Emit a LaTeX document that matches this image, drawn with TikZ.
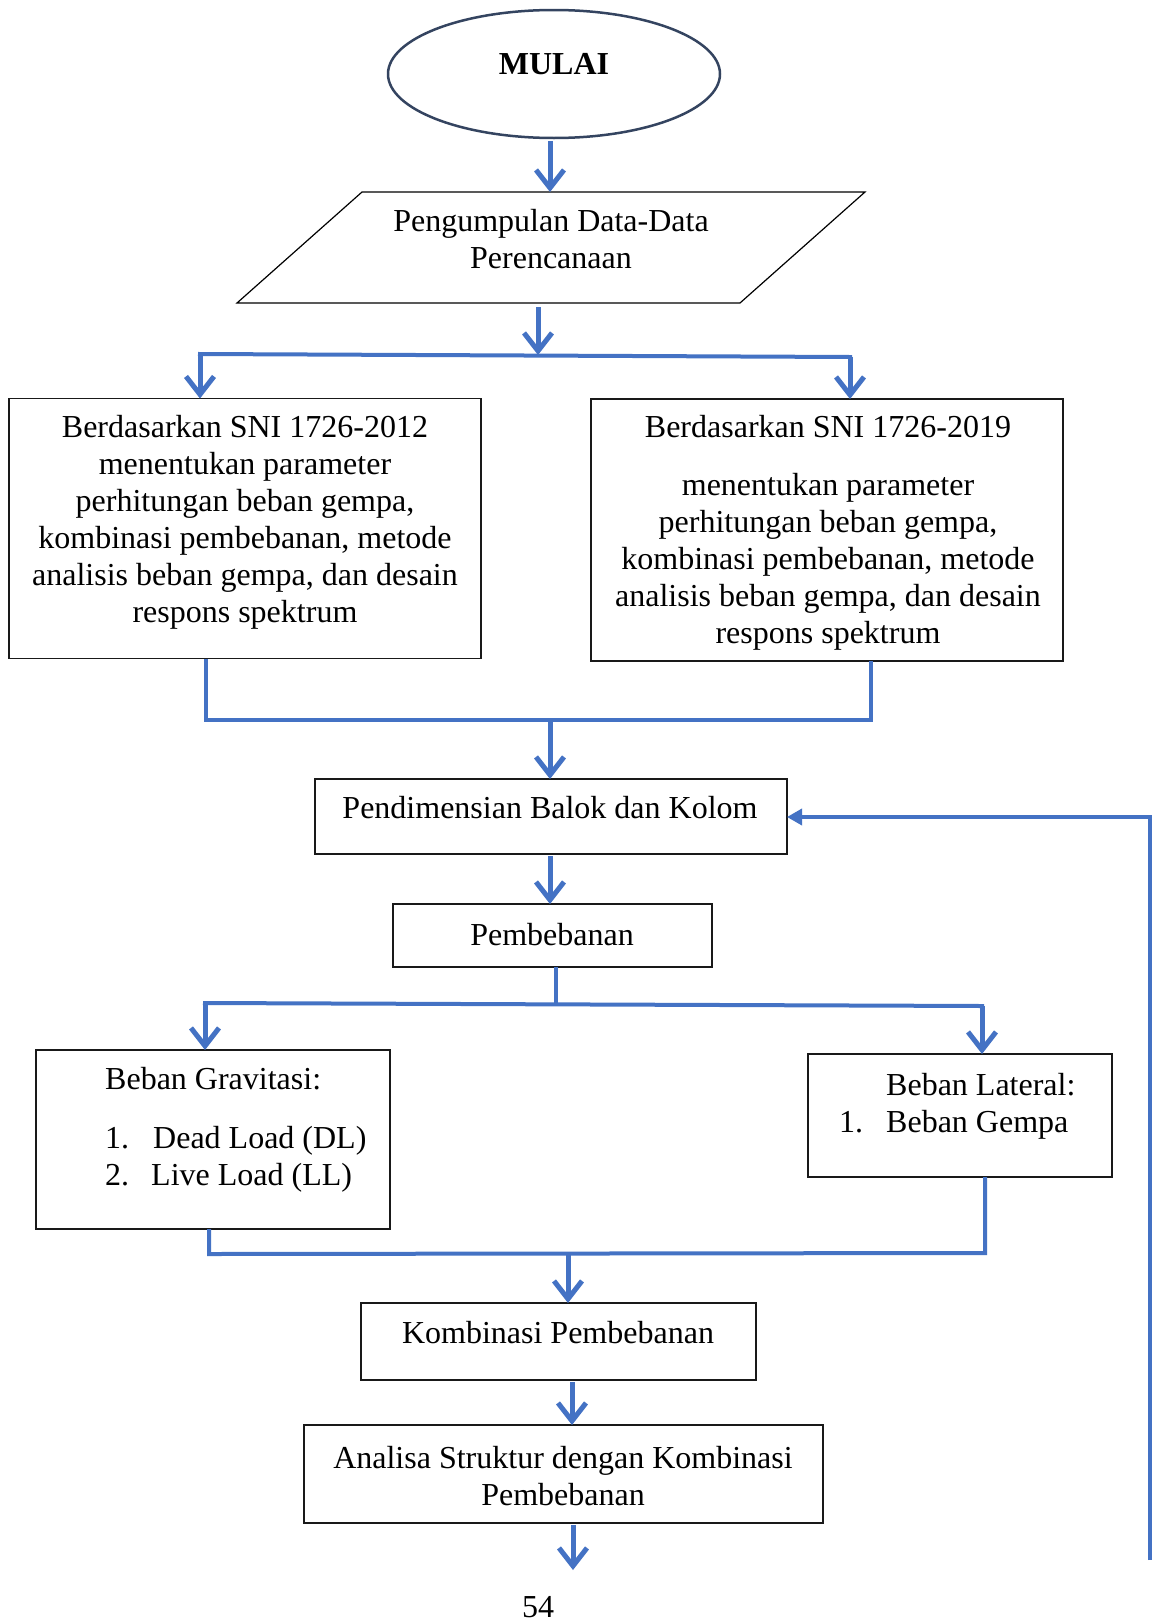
\documentclass[tikz,border=0pt]{standalone}
\usepackage{fontspec}
\setmainfont{Liberation Serif}
\usetikzlibrary{arrows.meta,shapes.geometric}
\definecolor{flow}{HTML}{4472C4}
\definecolor{ellc}{RGB}{52,68,96}
\begin{document}
\begin{tikzpicture}[x=1pt,y=-1pt,
  box/.style={draw=black!90,line width=1.5pt,inner sep=0pt,outer sep=0pt},
  txt/.style={inner sep=0pt,font=\fontsize{32}{37}\selectfont,align=center,anchor=base},
  ltxt/.style={inner sep=0pt,font=\fontsize{32}{37}\selectfont,anchor=base west},
  ln/.style={draw=flow,line width=4pt},
  arr/.style={draw=flow,line width=5pt,-{Straight Barb[length=18pt,width=28pt]}},
  back/.style={draw=flow,line width=3.5pt,-{Triangle[length=15pt,width=16pt]}},
]
\useasboundingbox (0,0) rectangle (1153,1622);
\fill[white] (0,0) rectangle (1153,1622);

% start
\node[ellipse,draw=ellc,line width=2.5pt,minimum width=332pt,minimum height=128pt,inner sep=0pt,outer sep=0pt] (mulai) at (554,74) {};
\node[txt,font=\fontsize{32}{37}\selectfont\bfseries] (mulaiT) at (554,74) {MULAI};

% data (parallelogram)
\coordinate (pTL) at (362,192);
\coordinate (pTR) at (865,192);
\coordinate (pBR) at (740,303);
\coordinate (pBL) at (237,303);
\draw[line width=1.2pt] (pTL) -- (pTR) -- (pBR) -- (pBL) -- cycle;
\node[txt] (data) at (551,268) {Pengumpulan Data-Data\\Perencanaan};

% two SNI boxes
\node[box,minimum width=472pt,minimum height=260pt] (b1) at (245,528.5) {};
\node[txt] (t1) at (245,622) {Berdasarkan SNI 1726-2012\\menentukan parameter\\perhitungan beban gempa,\\kombinasi pembebanan, metode\\analisis beban gempa, dan desain\\respons spektrum};
\node[box,minimum width=472pt,minimum height=262pt] (b2) at (827,530) {};
\node[txt] (t2) at (828,643) {Berdasarkan SNI 1726-2019\\[21pt]menentukan parameter\\perhitungan beban gempa,\\kombinasi pembebanan, metode\\analisis beban gempa, dan desain\\respons spektrum};

% Pendimensian
\node[box,minimum width=472pt,minimum height=75pt] (pend) at (551,816.5) {};
\node[txt] (pendT) at (550,818) {Pendimensian Balok dan Kolom};

% Pembebanan
\node[box,minimum width=319pt,minimum height=63pt] (pemb) at (552.5,935.5) {};
\node[txt] (pembT) at (552,945) {Pembebanan};

% Beban boxes
\node[box,minimum width=354pt,minimum height=179pt] (grav) at (213,1139.5) {};
\node[ltxt] (gravT) at (105,1089) {Beban Gravitasi:};
\node[ltxt] (g1n) at (105,1148) {1.};
\node[ltxt] (g1) at (153,1148) {Dead Load (DL)};
\node[ltxt] (g2n) at (105,1185) {2.};
\node[ltxt] (g2) at (151,1185) {Live Load (LL)};

\node[box,minimum width=304pt,minimum height=123pt] (lat) at (960,1115.5) {};
\node[ltxt] (latT) at (886,1095) {Beban Lateral:};
\node[ltxt] (l1n) at (839,1132) {1.};
\node[ltxt] (l1) at (886,1132) {Beban Gempa};

% Kombinasi
\node[box,line width=2.5pt,minimum width=395pt,minimum height=77pt] (komb) at (558.5,1341.5) {};
\node[txt] (kombT) at (558,1343) {Kombinasi Pembebanan};

% Analisa
\node[box,minimum width=519pt,minimum height=98pt] (anal) at (563.5,1474) {};
\node[txt] (analT) at (563,1505) {Analisa Struktur dengan Kombinasi\\Pembebanan};

% page number
\node[txt] (page) at (538,1617) {54};

% ---------- connectors ----------
\coordinate (a1s) at (550,141);
\coordinate (a2s) at (538,307);
\coordinate (s1) at (538,355);
\coordinate (bL) at (200,354);
\coordinate (bR) at (850,357);
\draw[arr] (a1s) -- (a1s |- pTL);
\draw[arr] (a2s) -- (s1);
\draw[ln,line cap=rect] (bL) -- (bR);
\draw[arr] (bL) -- (bL |- b1.north);
\draw[arr] (bR) -- (bR |- b2.north);

\coordinate (m1L) at (206,720);
\coordinate (m1R) at (871,720);
\coordinate (m1) at (550,720);
\draw[ln] (b1.south -| m1L) -- (m1L) -- (m1R) -- (b2.south -| m1R);
\draw[arr] (m1) -- (m1 |- pend.north);

\coordinate (a3s) at (550,856);
\draw[arr] (a3s) -- (a3s |- pemb.north);

\coordinate (s2) at (556,1005);
\coordinate (cL) at (205,1003);
\coordinate (cR) at (982,1006);
\draw[ln] (s2 |- pemb.south) -- (s2);
\draw[ln,line cap=rect] (cL) -- (cR);
\draw[arr] (cL) -- (cL |- grav.north);
\draw[arr] (cR) -- (cR |- lat.north);

\coordinate (m2L) at (209,1254);
\coordinate (m2R) at (985,1253);
\coordinate (m2) at (568,1254);
\draw[ln] (grav.south -| m2L) -- (m2L) -- (m2R) -- (lat.south -| m2R);
\draw[arr] (m2) -- (m2 |- komb.north);

\coordinate (a4s) at (572,1382);
\draw[arr] (a4s) -- (a4s |- anal.north);

\coordinate (a5s) at (573,1525);
\coordinate (a5e) at (573,1570);
\draw[arr] (a5s) -- (a5e);

\coordinate (fbB) at (1150,1560);
\coordinate (fbC) at (1150,817);
\draw[back] (fbB) -- (fbC) -- (pend.east |- fbC);
\end{tikzpicture}
\end{document}
